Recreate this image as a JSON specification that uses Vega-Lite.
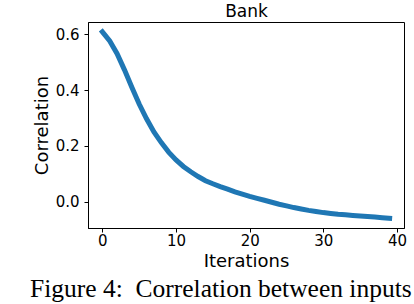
{
  "$schema": "https://vega.github.io/schema/vega-lite/v6.json",
  "width": 316,
  "height": 206,
  "autosize": {"type": "none"},
  "padding": {"left": 88, "top": 22, "right": 10, "bottom": 76},
  "background": "white",
  "config": {
    "font": "DejaVu Sans",
    "view": {"stroke": "black", "strokeWidth": 1}
  },
  "title": {
    "text": "Figure 4:\u00a0\u00a0Correlation between inputs",
    "orient": "bottom",
    "anchor": "start",
    "frame": "group",
    "dx": -58,
    "offset": 7,
    "font": "Liberation Serif",
    "fontSize": 25.5,
    "fontWeight": "normal",
    "color": "black"
  },
  "data": {
    "values": [
      {"iter": 0, "corr": 0.608},
      {"iter": 1, "corr": 0.575},
      {"iter": 2, "corr": 0.530},
      {"iter": 3, "corr": 0.472},
      {"iter": 4, "corr": 0.410},
      {"iter": 5, "corr": 0.350},
      {"iter": 6, "corr": 0.297},
      {"iter": 7, "corr": 0.250},
      {"iter": 8, "corr": 0.212},
      {"iter": 9, "corr": 0.178},
      {"iter": 10, "corr": 0.150},
      {"iter": 11, "corr": 0.127},
      {"iter": 12, "corr": 0.108},
      {"iter": 13, "corr": 0.091},
      {"iter": 14, "corr": 0.076},
      {"iter": 15, "corr": 0.065},
      {"iter": 16, "corr": 0.055},
      {"iter": 17, "corr": 0.046},
      {"iter": 18, "corr": 0.036},
      {"iter": 19, "corr": 0.028},
      {"iter": 20, "corr": 0.020},
      {"iter": 21, "corr": 0.013},
      {"iter": 22, "corr": 0.006},
      {"iter": 23, "corr": -0.001},
      {"iter": 24, "corr": -0.008},
      {"iter": 25, "corr": -0.014},
      {"iter": 26, "corr": -0.020},
      {"iter": 27, "corr": -0.025},
      {"iter": 28, "corr": -0.030},
      {"iter": 29, "corr": -0.034},
      {"iter": 30, "corr": -0.038},
      {"iter": 31, "corr": -0.041},
      {"iter": 32, "corr": -0.044},
      {"iter": 33, "corr": -0.046},
      {"iter": 34, "corr": -0.048},
      {"iter": 35, "corr": -0.050},
      {"iter": 36, "corr": -0.052},
      {"iter": 37, "corr": -0.054},
      {"iter": 38, "corr": -0.056},
      {"iter": 39, "corr": -0.058}
    ]
  },
  "layer": [
    {
      "mark": {"type": "line", "color": "#1f77b4", "strokeWidth": 5, "strokeCap": "square", "clip": true},
      "encoding": {
        "x": {
          "field": "iter",
          "type": "quantitative",
          "scale": {"domain": [-1.95, 40.95], "nice": false, "zero": false},
          "axis": {
            "orient": "bottom",
            "title": "Iterations",
            "values": [0, 10, 20, 30, 40],
            "grid": false,
            "domainColor": "black",
            "tickColor": "black",
            "tickSize": 4,
            "labelPadding": 1,
            "labelFontSize": 15,
            "labelColor": "black",
            "titleFontSize": 18,
            "titleFontWeight": "normal",
            "titleColor": "black",
            "titlePadding": 4
          }
        },
        "y": {
          "field": "corr",
          "type": "quantitative",
          "scale": {"domain": [-0.093, 0.643], "nice": false, "zero": false},
          "axis": {
            "title": "Correlation",
            "values": [0, 0.2, 0.4, 0.6],
            "format": ".1f",
            "grid": false,
            "domainColor": "black",
            "tickColor": "black",
            "tickSize": 4,
            "labelPadding": 5,
            "labelFontSize": 15,
            "labelColor": "black",
            "titleFontSize": 18,
            "titleFontWeight": "normal",
            "titleColor": "black",
            "titlePadding": 4
          }
        }
      }
    },
    {
      "mark": {"type": "line", "strokeOpacity": 0},
      "encoding": {
        "x": {
          "field": "iter",
          "type": "quantitative",
          "axis": {
            "orient": "top",
            "title": "Bank",
            "labels": false,
            "ticks": false,
            "domain": false,
            "grid": false,
            "titleFontSize": 17,
            "titleFontWeight": "normal",
            "titleColor": "black",
            "titlePadding": 2
          }
        },
        "y": {"field": "corr", "type": "quantitative"}
      }
    }
  ],
  "resolve": {"axis": {"x": "independent"}}
}
